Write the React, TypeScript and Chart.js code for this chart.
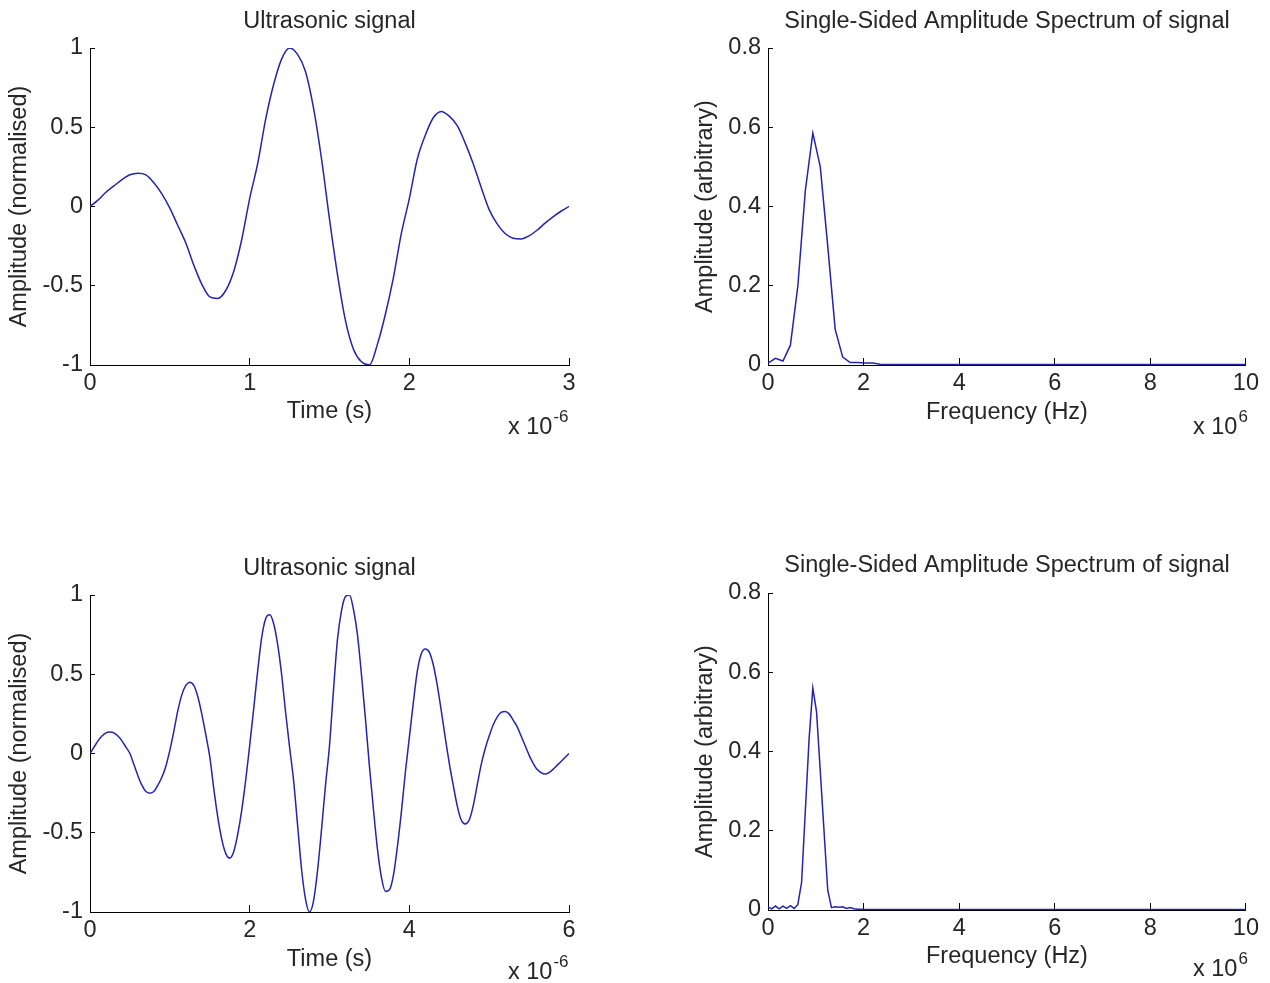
import React, { useEffect, useRef } from "react";
import { Chart, registerables } from "chart.js";

Chart.register(...registerables);

// ---------------- data ----------------
// time signals, sampled every 0.05 µs (axis shown in µs, exponent label "x 10^-6")
const SAMPLE_US = 0.05;

const signalShort = [
  0.0, 0.04, 0.09, 0.13, 0.17, 0.2, 0.21, 0.2, 0.15, 0.08,
  -0.01, -0.12, -0.23, -0.37, -0.49, -0.57, -0.58, -0.53, -0.41, -0.21,
  0.05, 0.27, 0.55, 0.77, 0.93, 1.0, 0.96, 0.85, 0.62, 0.3,
  -0.08, -0.43, -0.72, -0.9, -0.98, -1.0, -0.87, -0.68, -0.45, -0.17,
  0.05, 0.3, 0.45, 0.56, 0.6, 0.57, 0.51, 0.4, 0.27, 0.12,
  -0.02, -0.11, -0.17, -0.2, -0.205, -0.185, -0.15, -0.105, -0.065, -0.03, 0.0,
];

const signalLong = [
  0.0, 0.04, 0.08, 0.11, 0.13, 0.135, 0.13, 0.11, 0.08, 0.04,
  0.0, -0.07, -0.14, -0.2, -0.24, -0.25, -0.24, -0.2, -0.15, -0.08,
  0.02, 0.14, 0.27, 0.37, 0.43, 0.45, 0.43, 0.36, 0.25, 0.12,
  -0.02, -0.22, -0.4, -0.54, -0.63, -0.66, -0.62, -0.51, -0.36, -0.17,
  0.05, 0.28, 0.52, 0.73, 0.85, 0.875, 0.82, 0.69, 0.5, 0.26,
  0.04, -0.17, -0.45, -0.73, -0.92, -1.0, -0.93, -0.74, -0.48, -0.2,
  0.05, 0.4, 0.72, 0.9, 0.99, 1.0, 0.91, 0.75, 0.5, 0.22,
  -0.08, -0.35, -0.6, -0.78, -0.87, -0.86, -0.77, -0.59, -0.37, -0.12,
  0.1, 0.32, 0.52, 0.63, 0.66, 0.64, 0.56, 0.43, 0.27, 0.1,
  -0.06, -0.2, -0.33, -0.42, -0.445, -0.42, -0.33, -0.2, -0.07, 0.03,
  0.11, 0.18, 0.23, 0.26, 0.265, 0.25, 0.21, 0.17, 0.11, 0.05,
  -0.01, -0.06, -0.1, -0.12, -0.13, -0.12, -0.1, -0.075, -0.05, -0.025,
  0.0,
];

const timeShort = signalShort.map((_, i) => i * SAMPLE_US);
const timeLong = signalLong.map((_, i) => i * SAMPLE_US);

// spectra (frequency in MHz, axis exponent "x 10^6")
const freqShort = [
  0, 0.156, 0.313, 0.469, 0.625, 0.781, 0.938, 1.094, 1.25, 1.406, 1.563,
  1.719, 1.875, 2.031, 2.188, 2.344, 2.5, 3, 4, 5, 6, 7, 8, 9, 10,
];
const spectrumShort = [
  0.005, 0.017, 0.01, 0.05, 0.2, 0.44, 0.585, 0.5, 0.3, 0.09, 0.02,
  0.006, 0.006, 0.005, 0.005, 0.002, 0.001, 0.001, 0.001, 0.001, 0.001, 0.001, 0.001, 0.001, 0.001,
];

const freqLong = [
  0, 0.078, 0.156, 0.234, 0.313, 0.391, 0.469, 0.547, 0.625, 0.703, 0.781,
  0.859, 0.938, 1.016, 1.094, 1.172, 1.25, 1.328, 1.406, 1.484, 1.563,
  1.641, 1.719, 1.797, 1.875, 1.953, 2.031, 2.5, 3, 4, 5, 6, 7, 8, 9, 10,
];
const spectrumLong = [
  0.008, 0.003, 0.01, 0.003, 0.01, 0.004, 0.011, 0.004, 0.014, 0.07, 0.25,
  0.43, 0.56, 0.5, 0.35, 0.2, 0.05, 0.006, 0.008, 0.007, 0.008,
  0.004, 0.006, 0.003, 0.002, 0.002, 0.001, 0.001, 0.001, 0.001, 0.001, 0.001, 0.001, 0.001, 0.001, 0.001,
];

const timeTicksShort = [0, 1, 2, 3];
const timeTicksLong = [0, 2, 4, 6];
const freqTicks = [0, 2, 4, 6, 8, 10];
const ampTicks = [-1, -0.5, 0, 0.5, 1];
const specTicks = [0, 0.2, 0.4, 0.6, 0.8];

// ---------------- styling ----------------
const FONT = "'Liberation Sans', Arial, Helvetica, sans-serif";
const FS = 23.5;
const SUP_FS = 17;
const TEXT = "#262626";
const LINE = "rgb(36,36,172)";

type Rect = { left: number; top: number; width: number; height: number };
type Area = { left: number; top: number; right: number; bottom: number };

type Panel = {
  key: string;
  canvas: Rect;
  area: Area;
  xs: number[];
  ys: number[];
  xMax: number;
  xTicks: number[];
  yMin: number;
  yMax: number;
  yTicks: number[];
  title: string;
  titleY: number;
  xLabel: string;
  xLabelY: number;
  yLabel: string;
  yLabelX: number;
  expX: number;
  expY: number;
  expSup: string;
  smooth: boolean;
};

const panels: Panel[] = [
  {
    key: "tl",
    canvas: { left: 0, top: 0, width: 635, height: 491 },
    area: { left: 90, top: 48, right: 569, bottom: 365 },
    xs: timeShort, ys: signalShort, xMax: 3, xTicks: timeTicksShort,
    yMin: -1, yMax: 1, yTicks: ampTicks,
    title: "Ultrasonic signal", titleY: 22,
    xLabel: "Time (s)", xLabelY: 412,
    yLabel: "Amplitude (normalised)", yLabelX: 20,
    expX: 508, expY: 428, expSup: "-6", smooth: true,
  },
  {
    key: "tr",
    canvas: { left: 635, top: 0, width: 635, height: 491 },
    area: { left: 768, top: 48, right: 1246, bottom: 365 },
    xs: freqShort, ys: spectrumShort, xMax: 10, xTicks: freqTicks,
    yMin: 0, yMax: 0.8, yTicks: specTicks,
    title: "Single-Sided Amplitude Spectrum of signal", titleY: 22,
    xLabel: "Frequency (Hz)", xLabelY: 413,
    yLabel: "Amplitude (arbitrary)", yLabelX: 706,
    expX: 1193, expY: 428, expSup: "6", smooth: false,
  },
  {
    key: "bl",
    canvas: { left: 0, top: 491, width: 635, height: 492 },
    area: { left: 90, top: 595, right: 569, bottom: 912 },
    xs: timeLong, ys: signalLong, xMax: 6, xTicks: timeTicksLong,
    yMin: -1, yMax: 1, yTicks: ampTicks,
    title: "Ultrasonic signal", titleY: 569,
    xLabel: "Time (s)", xLabelY: 960,
    yLabel: "Amplitude (normalised)", yLabelX: 20,
    expX: 508, expY: 973, expSup: "-6", smooth: true,
  },
  {
    key: "br",
    canvas: { left: 635, top: 491, width: 635, height: 492 },
    area: { left: 768, top: 593, right: 1246, bottom: 910 },
    xs: freqLong, ys: spectrumLong, xMax: 10, xTicks: freqTicks,
    yMin: 0, yMax: 0.8, yTicks: specTicks,
    title: "Single-Sided Amplitude Spectrum of signal", titleY: 566,
    xLabel: "Frequency (Hz)", xLabelY: 957,
    yLabel: "Amplitude (arbitrary)", yLabelX: 706,
    expX: 1193, expY: 970, expSup: "6", smooth: false,
  },
];

const fmt = (v: number) => String(Math.round(v * 10) / 10);

const textPlugin = {
  id: "matlabText",
  afterDraw(chart: any, _args: any, opts: any) {
    const { ctx, chartArea } = chart;
    ctx.save();
    ctx.fillStyle = TEXT;
    ctx.font = `${FS}px ${FONT}`;
    ctx.textAlign = "center";
    ctx.textBaseline = "middle";
    ctx.fillText(opts.title, (chartArea.left + chartArea.right) / 2, opts.titleY);
    ctx.textAlign = "left";
    ctx.fillText("x 10", opts.expX, opts.expY);
    const w = ctx.measureText("x 10").width;
    ctx.font = `${SUP_FS}px ${FONT}`;
    ctx.fillText(opts.expSup, opts.expX + w + 1, opts.expY - 11);
    ctx.restore();
  },
};

function Subplot({ p }: { p: Panel }) {
  const ref = useRef<HTMLCanvasElement | null>(null);

  useEffect(() => {
    const c = p.canvas;
    const a = p.area;
    const yWidth = a.left - c.left;
    const xHeight = c.top + c.height - a.bottom;
    const lh = FS; // lineHeight 1
    const xTitleOffset = c.top + c.height - p.xLabelY;
    const yTitleOffset = p.yLabelX - c.left;

    const chart = new Chart(ref.current as HTMLCanvasElement, {
      type: "line",
      data: {
        datasets: [
          {
            data: p.xs.map((x, i) => ({ x, y: p.ys[i] })),
            borderColor: LINE,
            borderWidth: 1.5,
            pointRadius: 0,
            fill: false,
            tension: p.smooth ? 0.4 : 0,
            cubicInterpolationMode: p.smooth ? "monotone" : "default",
          },
        ],
      },
      options: {
        animation: false,
        responsive: false,
        devicePixelRatio: 1,
        events: [],
        layout: {
          padding: {
            left: 0,
            top: a.top - c.top,
            right: c.left + c.width - a.right,
            bottom: 0,
          },
        },
        plugins: {
          legend: { display: false },
          tooltip: { enabled: false },
          title: { display: false },
          matlabText: {
            title: p.title,
            titleY: p.titleY - c.top,
            expX: p.expX - c.left,
            expY: p.expY - c.top,
            expSup: p.expSup,
          },
        } as any,
        scales: {
          x: {
            type: "linear",
            min: 0,
            max: p.xMax,
            afterBuildTicks: (s: any) => {
              s.ticks = p.xTicks.map((v) => ({ value: v }));
            },
            afterFit: (s: any) => {
              s.height = xHeight;
            },
            ticks: {
              autoSkip: false,
              maxRotation: 0,
              padding: 11,
              color: TEXT,
              font: { family: FONT, size: FS, lineHeight: 1.2 },
              callback: (v: any) => fmt(Number(v)),
            },
            grid: {
              display: true,
              drawOnChartArea: false,
              drawTicks: true,
              tickLength: -7,
              color: "#000",
              lineWidth: 1,
            },
            border: { display: true, color: "#000", width: 1 },
            title: {
              display: true,
              text: p.xLabel,
              color: TEXT,
              font: { family: FONT, size: FS, lineHeight: 1 },
              padding: { top: 0, bottom: xTitleOffset - lh / 2 },
            },
          },
          y: {
            type: "linear",
            min: p.yMin,
            max: p.yMax,
            afterBuildTicks: (s: any) => {
              s.ticks = p.yTicks.map((v) => ({ value: v }));
            },
            afterFit: (s: any) => {
              s.width = yWidth;
            },
            ticks: {
              autoSkip: false,
              padding: 12,
              color: TEXT,
              font: { family: FONT, size: FS, lineHeight: 1.2 },
              callback: (v: any) => fmt(Number(v)),
            },
            grid: {
              display: true,
              drawOnChartArea: false,
              drawTicks: true,
              tickLength: -5,
              color: "#000",
              lineWidth: 1,
            },
            border: { display: true, color: "#000", width: 1 },
            title: {
              display: true,
              text: p.yLabel,
              color: TEXT,
              font: { family: FONT, size: FS, lineHeight: 1 },
              padding: { top: yTitleOffset - lh / 2, bottom: 0 },
            },
          },
        },
      } as any,
      plugins: [textPlugin as any],
    });
    return () => chart.destroy();
  }, [p]);

  return (
    <canvas
      ref={ref}
      width={p.canvas.width}
      height={p.canvas.height}
      style={{
        position: "absolute",
        left: p.canvas.left,
        top: p.canvas.top,
        width: p.canvas.width,
        height: p.canvas.height,
      }}
    />
  );
}

export default function App() {
  return (
    <div
      style={{
        position: "absolute",
        left: 0,
        top: 0,
        width: 1270,
        height: 983,
        background: "#ffffff",
        overflow: "hidden",
      }}
    >
      {panels.map((p) => (
        <Subplot key={p.key} p={p} />
      ))}
    </div>
  );
}
